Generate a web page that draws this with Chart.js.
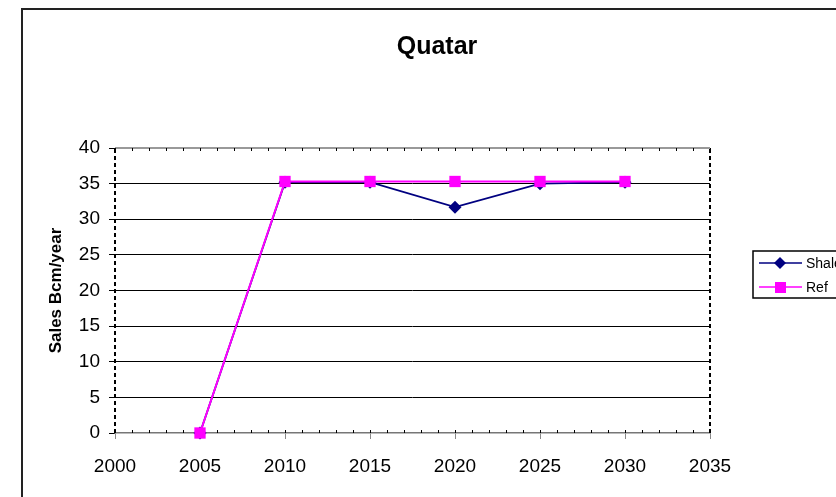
<!DOCTYPE html>
<html>
<head>
<meta charset="utf-8">
<script src="https://cdn.jsdelivr.net/npm/chart.js@4/dist/chart.umd.min.js"></script>
<style>
html,body{margin:0;padding:0;background:#fff;overflow:hidden;}
#wrap{position:relative;width:836px;height:497px;}
</style>
</head>
<body>
<div id="wrap"><canvas id="c" width="836" height="497"></canvas></div>
<script>
const years = [2005, 2010, 2015, 2020, 2025, 2030];
const shale = [0, 35.2, 35.2, 31.7, 35.0, 35.2];
const ref = [0, 35.3, 35.3, 35.3, 35.3, 35.3];
const seriesNames = ['Shale', 'Ref'];
const chartTitle = 'Quatar';
const yTitle = 'Sales Bcm/year';
const xMin = 2000, xMax = 2035, xStep = 5;
const yMin = 0, yMax = 40, yStep = 5;

const FONT = '"Liberation Sans", Arial, sans-serif';

const frame = {
  id: 'frame',
  beforeDraw(chart) {
    const ctx = chart.ctx;
    ctx.save();
    ctx.fillStyle = '#fff';
    ctx.fillRect(0, 0, chart.width, chart.height);
    ctx.strokeStyle = '#222';
    ctx.lineWidth = 2;
    ctx.strokeRect(22, 9, 900, 600);
    ctx.restore();
  },
  beforeDatasetsDraw(chart) {
    const ctx = chart.ctx, a = chart.chartArea;
    const xs = chart.scales.x;
    ctx.save();
    ctx.strokeStyle = '#000';
    ctx.lineWidth = 2;
    ctx.setLineDash([4, 3]);
    ctx.beginPath();
    ctx.moveTo(a.right, a.bottom);
    ctx.lineTo(a.right, a.top);
    ctx.moveTo(a.left, a.bottom);
    ctx.lineTo(a.left, a.top);
    ctx.stroke();
    ctx.setLineDash([]);
    ctx.strokeStyle = '#777';
    ctx.lineWidth = 1.5;
    ctx.beginPath();
    ctx.moveTo(a.left, a.top);
    ctx.lineTo(a.right, a.top);
    ctx.stroke();
    ctx.strokeStyle = '#000';
    ctx.lineWidth = 1;
    for (let v = xMin; v <= xMax; v++) {
      const px = Math.round(xs.getPixelForValue(v)) + 0.5;
      ctx.beginPath();
      ctx.moveTo(px, a.bottom);
      ctx.lineTo(px, a.bottom - 3);
      ctx.moveTo(px, a.top);
      ctx.lineTo(px, a.top + 3);
      ctx.stroke();
    }
    ctx.restore();
  },
  afterDraw(chart) {
    const ctx = chart.ctx;
    ctx.save();
    ctx.fillStyle = '#000';
    ctx.font = 'bold 25px ' + FONT;
    ctx.textAlign = 'center';
    ctx.textBaseline = 'middle';
    ctx.fillText(chartTitle, 437, 47);
    const lx = 753, ly = 251, lw = 100, lh = 47;
    ctx.fillStyle = '#fff';
    ctx.fillRect(lx, ly, lw, lh);
    ctx.strokeStyle = '#000';
    ctx.lineWidth = 1.5;
    ctx.strokeRect(lx, ly, lw, lh);
    ctx.font = '14px ' + FONT;
    ctx.textAlign = 'left';
    chart.data.datasets.forEach((ds, i) => {
      const y = 263 + i * 24;
      ctx.strokeStyle = ds.borderColor;
      ctx.lineWidth = 1.5;
      ctx.beginPath();
      ctx.moveTo(759, y);
      ctx.lineTo(802, y);
      ctx.stroke();
      ctx.fillStyle = ds.backgroundColor;
      ctx.beginPath();
      if (ds.pointStyle === 'rectRot') {
        ctx.moveTo(780, y - 6);
        ctx.lineTo(786, y);
        ctx.lineTo(780, y + 6);
        ctx.lineTo(774, y);
        ctx.closePath();
      } else {
        ctx.rect(775, y - 5, 11, 11);
      }
      ctx.fill();
      ctx.fillStyle = '#000';
      ctx.fillText(ds.label, 806, y + 1);
    });
    ctx.restore();
  }
};

new Chart(document.getElementById('c'), {
  type: 'line',
  data: {
    datasets: [
      {
        label: seriesNames[0],
        data: years.map((x, i) => ({x, y: shale[i]})),
        borderColor: '#000080',
        backgroundColor: '#000080',
        borderWidth: 1.8,
        pointStyle: 'rectRot',
        pointRadius: 6.5,
        pointBorderWidth: 0,
        tension: 0,
        clip: false,
        order: 2
      },
      {
        label: seriesNames[1],
        data: years.map((x, i) => ({x, y: ref[i]})),
        borderColor: '#FF00FF',
        backgroundColor: '#FF00FF',
        borderWidth: 2,
        pointStyle: 'rect',
        pointRadius: 8,
        pointBorderWidth: 0,
        tension: 0,
        clip: false,
        order: 1
      }
    ]
  },
  plugins: [frame],
  options: {
    responsive: false,
    animation: false,
    devicePixelRatio: 1,
    layout: { padding: { left: 46, right: 126, top: 148, bottom: 0 } },
    plugins: { legend: { display: false }, title: { display: false }, tooltip: { enabled: false } },
    scales: {
      x: {
        type: 'linear',
        min: xMin, max: xMax,
        ticks: { stepSize: xStep, color: '#000', font: { family: FONT, size: 19 }, padding: 16, maxRotation: 0,
                 callback: v => String(v) },
        grid: { drawOnChartArea: false, drawTicks: true, tickLength: 6, color: '#888' },
        border: { color: '#777', width: 1.5 },
        afterFit(s) { s.height = 64; }
      },
      y: {
        min: yMin, max: yMax,
        ticks: { stepSize: yStep, color: '#000', font: { family: FONT, size: 19 }, padding: 9 },
        grid: {
          drawOnChartArea: true, drawTicks: true, tickLength: 6,
          color: ctx => (ctx.tick && (ctx.tick.value === yMin || ctx.tick.value === yMax)) ? 'rgba(0,0,0,0)' : '#000',
          tickColor: '#000', lineWidth: 1
        },
        border: { display: false },
        title: { display: true, text: yTitle, color: '#000', font: { family: FONT, size: 17, weight: 'bold' }, padding: { top: 0, bottom: 0 } },
        afterFit(s) { s.width = 69; }
      }
    }
  }
});
</script>
</body>
</html>
